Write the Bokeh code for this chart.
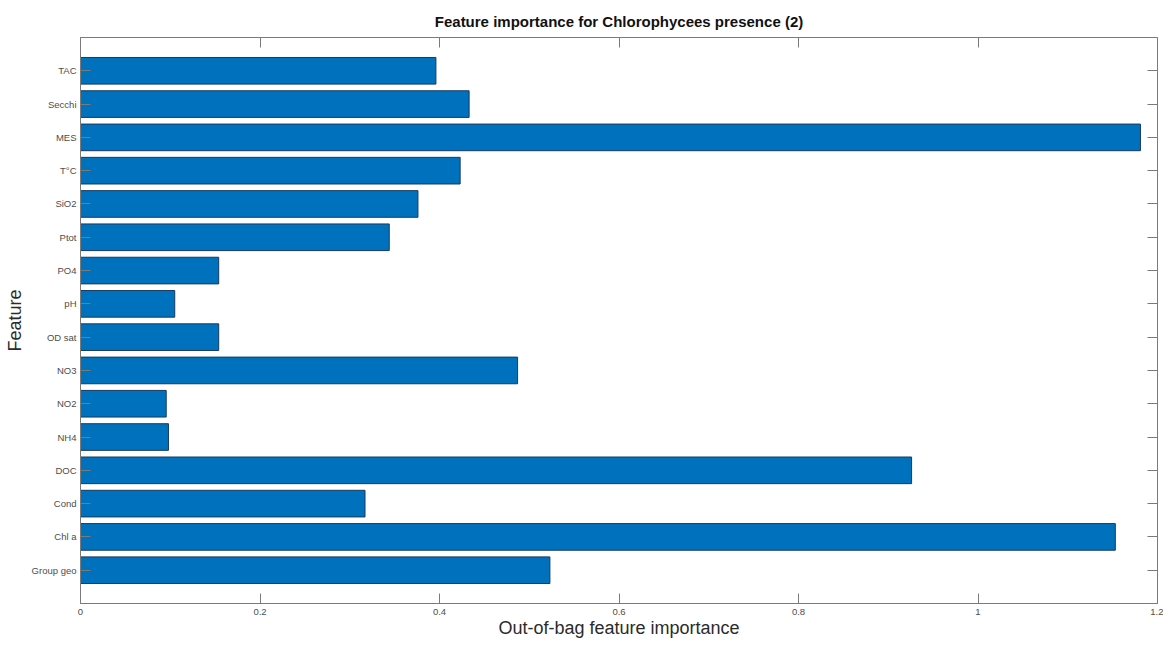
from bokeh.plotting import figure
from bokeh.models import Range1d, FixedTicker, LinearAxis, ColumnDataSource
from bokeh.embed import file_html
from bokeh.resources import INLINE

# Data (bottom to top)
features = ["Group geo", "Chl a", "Cond", "DOC", "NH4", "NO2", "NO3", "OD sat",
            "pH", "PO4", "Ptot", "SiO2", "T°C", "MES", "Secchi", "TAC"]
importance = [0.523, 1.153, 0.317, 0.926, 0.098, 0.0955, 0.487, 0.154,
              0.105, 0.154, 0.344, 0.376, 0.423, 1.181, 0.433, 0.396]
x_ticks = [0, 0.2, 0.4, 0.6, 0.8, 1.0, 1.2]
x_tick_labels = ["0", "0.2", "0.4", "0.6", "0.8", "1", "1.2"]

positions = list(range(1, len(features) + 1))
src = ColumnDataSource(dict(y=positions, x=importance, name=features))

FONT = "Liberation Sans"
AX = "#7a7a7a"
TXT = "#4d4d4d"
XMAX = 1.2
YMAX = len(features) + 1

p = figure(width=1163, height=640, output_backend="svg", toolbar_location=None,
           x_range=Range1d(0, XMAX), y_range=Range1d(0, YMAX),
           title="Feature importance for Chlorophycees presence (2)",
           min_border_left=80, min_border_right=6, min_border_top=37,
           min_border_bottom=34, x_axis_location=None, y_axis_location=None)

p.hbar(y="y", right="x", left=0, height=0.8, source=src,
       fill_color="#0072BD", line_color="#173a5e", line_width=1)

p.title.align = "center"
p.title.text_font = FONT
p.title.text_font_size = "15px"
p.title.text_font_style = "bold"
p.title.text_color = "#111111"
p.title.offset = 0
p.title.standoff = 15

p.outline_line_color = AX
p.outline_line_width = 1
p.xgrid.visible = False
p.ygrid.visible = False
p.background_fill_color = "white"
p.border_fill_color = "white"

def style(ax):
    ax.major_tick_in = 10
    ax.major_tick_out = 0
    ax.minor_tick_in = 0
    ax.minor_tick_out = 0
    ax.major_tick_line_color = AX
    ax.axis_line_color = AX
    ax.major_label_text_font = FONT
    ax.major_label_text_font_size = "9.5px"
    ax.major_label_text_color = TXT
    ax.axis_label_text_font = FONT
    ax.axis_label_text_font_size = "18px"
    ax.axis_label_text_font_style = "normal"
    ax.axis_label_text_color = "#2b2b2b"

xb = LinearAxis(ticker=FixedTicker(ticks=x_ticks),
                major_label_overrides={t: l for t, l in zip(x_ticks, x_tick_labels)},
                axis_label="Out-of-bag feature importance")
style(xb)
xb.major_label_standoff = 5
xb.axis_label_standoff = 0
p.add_layout(xb, "below")

yl = LinearAxis(ticker=FixedTicker(ticks=positions),
                major_label_overrides={pos: n for pos, n in zip(positions, features)},
                axis_label="Feature")
style(yl)
yl.major_label_standoff = 4
yl.axis_label_standoff = 4
p.add_layout(yl, "left")

xt = LinearAxis(ticker=FixedTicker(ticks=x_ticks), fixed_location=YMAX,
                major_label_overrides={t: "" for t in x_ticks})
style(xt)
p.add_layout(xt, "above")

yr = LinearAxis(ticker=FixedTicker(ticks=positions), fixed_location=XMAX,
                major_label_overrides={pos: "" for pos in positions})
style(yr)
p.add_layout(yr, "right")

open("out.html", "w").write(file_html(p, INLINE))
